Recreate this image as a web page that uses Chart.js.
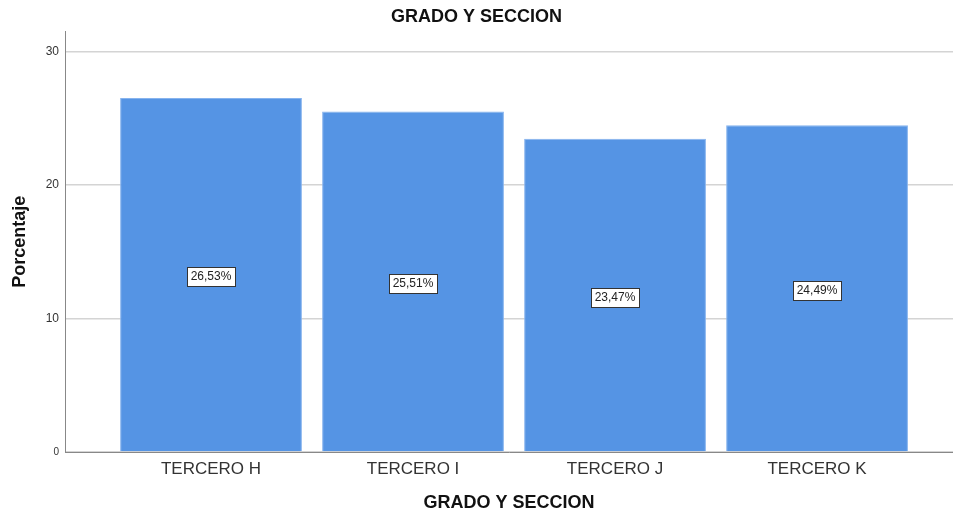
<!DOCTYPE html>
<html>
<head>
<meta charset="utf-8">
<script src="https://cdn.jsdelivr.net/npm/chart.js@4"></script>
<style>
html,body{margin:0;padding:0;background:#fff;}
canvas{display:block;}
</style>
</head>
<body>
<canvas id="c" width="953" height="514"></canvas>
<script>
const categories = ['TERCERO H', 'TERCERO I', 'TERCERO J', 'TERCERO K'];
const percentages = [26.53, 25.51, 23.47, 24.49];
const yTickValues = [0, 10, 20, 30];
const chartTitle = 'GRADO Y SECCION';
const xTitle = 'GRADO Y SECCION';
const yTitle = 'Porcentaje';

const FONT = "'Liberation Sans', Arial, sans-serif";

const barLabelPlugin = {
  id: 'barLabels',
  afterDatasetsDraw(chart) {
    const ctx = chart.ctx;
    const meta = chart.getDatasetMeta(0);
    ctx.save();
    ctx.font = '12px ' + FONT;
    ctx.textAlign = 'center';
    ctx.textBaseline = 'middle';
    meta.data.forEach((bar, i) => {
      const txt = percentages[i].toFixed(2).replace('.', ',') + '%';
      const cx = bar.x;
      const cy = (bar.y + bar.base) / 2 + 2;
      const w = ctx.measureText(txt).width + 7;
      const h = 19;
      const x0 = Math.round(cx - w / 2) + 0.5;
      const y0 = Math.round(cy - h / 2) + 0.5;
      ctx.fillStyle = '#ffffff';
      ctx.fillRect(x0, y0, Math.round(w), h);
      ctx.strokeStyle = '#333333';
      ctx.lineWidth = 1;
      ctx.strokeRect(x0, y0, Math.round(w), h);
      ctx.fillStyle = '#222222';
      ctx.fillText(txt, cx, cy + 0.5);
    });
    ctx.restore();
  }
};

new Chart(document.getElementById('c'), {
  type: 'bar',
  data: {
    datasets: [{
      data: percentages.map((v, i) => ({ x: i, y: v })),
      backgroundColor: '#5594e4',
      borderColor: '#86b3ee',
      borderWidth: 1,
      categoryPercentage: 0.9,
      barPercentage: 1.0
    }]
  },
  options: {
    responsive: false,
    devicePixelRatio: 1,
    animation: false,
    layout: { padding: 0 },
    plugins: {
      legend: { display: false },
      tooltip: { enabled: false },
      title: {
        display: true,
        text: chartTitle,
        color: '#111111',
        font: { family: FONT, size: 18, weight: 'bold' },
        padding: { top: 6, bottom: 4 }
      }
    },
    scales: {
      x: {
        type: 'linear',
        offset: false,
        min: -0.7228,
        max: 3.673,
        afterBuildTicks: (scale) => { scale.ticks = categories.map((_, i) => ({ value: i })); },
        afterFit: (scale) => { scale.height = 62; },
        grid: { display: false, drawTicks: false },
        border: { display: true, color: '#888888', width: 1 },
        ticks: {
          autoSkip: false,
          maxRotation: 0,
          padding: 7,
          color: '#333333',
          font: { family: FONT, size: 17 },
          callback: (v) => categories[v]
        },
        title: {
          display: true,
          text: xTitle,
          color: '#111111',
          font: { family: FONT, size: 18, weight: 'bold' },
          padding: { top: 0, bottom: 0 }
        }
      },
      y: {
        min: 0,
        max: 31.5,
        afterBuildTicks: (scale) => { scale.ticks = yTickValues.map(v => ({ value: v })); },
        afterFit: (scale) => { scale.width = 65; },
        grid: { color: '#d4d4d4', lineWidth: 1.5, drawTicks: false },
        border: { display: true, color: '#888888', width: 1 },
        ticks: {
          padding: 6,
          color: '#333333',
          font: (c) => ({ family: FONT, size: (c.tick && c.tick.value === 0) ? 10 : 12 }),
          callback: (v) => String(v)
        },
        title: {
          display: true,
          text: yTitle,
          color: '#111111',
          font: { family: FONT, size: 18, weight: 'bold' },
          padding: { top: 9, bottom: 0 }
        }
      }
    }
  },
  plugins: [barLabelPlugin]
});
</script>
</body>
</html>
